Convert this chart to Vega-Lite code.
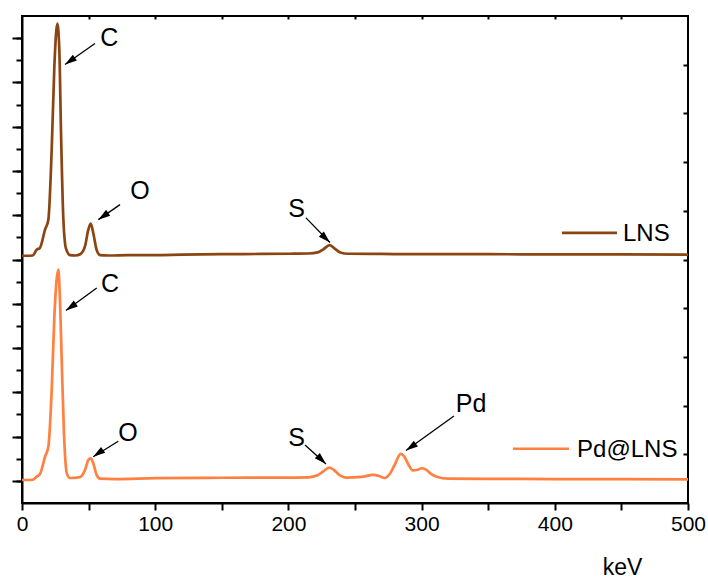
{
  "$schema": "https://vega.github.io/schema/vega-lite/v6.json",
  "width": 666,
  "height": 487,
  "autosize": {"type": "none"},
  "padding": {"left": 22, "top": 16, "right": 20, "bottom": 76},
  "background": "white",
  "config": {
    "view": {"stroke": "black", "strokeWidth": 2},
    "axis": {
      "grid": false,
      "domainColor": "black",
      "domainWidth": 2,
      "tickColor": "black",
      "tickWidth": 2,
      "labelColor": "black",
      "labelFont": "Liberation Sans",
      "labelFontSize": 21,
      "titleFont": "Liberation Sans",
      "titleColor": "black",
      "titleFontWeight": "normal",
      "labelFlush": false,
      "labelOverlap": false,
      "labelBound": false
    },
    "text": {"font": "Liberation Sans", "color": "black"}
  },
  "datasets": {
    "lns": [
      {"keV": 0, "v": 11.17}, {"keV": 4, "v": 11.17}, {"keV": 8, "v": 11.18},
      {"keV": 11, "v": 11.44}, {"keV": 13.5, "v": 11.53}, {"keV": 17.3, "v": 12.35},
      {"keV": 19.8, "v": 12.8}, {"keV": 22.3, "v": 15.97}, {"keV": 24.3, "v": 19.73},
      {"keV": 26.5, "v": 21.66}, {"keV": 28, "v": 20.5}, {"keV": 29.3, "v": 16.7},
      {"keV": 31, "v": 12.9}, {"keV": 33, "v": 11.5}, {"keV": 36, "v": 11.2},
      {"keV": 40, "v": 11.18}, {"keV": 44, "v": 11.25}, {"keV": 47.3, "v": 11.6},
      {"keV": 49.8, "v": 12.35}, {"keV": 51.6, "v": 12.62}, {"keV": 53.5, "v": 12.2},
      {"keV": 56, "v": 11.44}, {"keV": 58.6, "v": 11.2}, {"keV": 65, "v": 11.18},
      {"keV": 80, "v": 11.2}, {"keV": 100, "v": 11.2}, {"keV": 120, "v": 11.22},
      {"keV": 150, "v": 11.24}, {"keV": 180, "v": 11.25}, {"keV": 200, "v": 11.26},
      {"keV": 215, "v": 11.27}, {"keV": 222, "v": 11.32}, {"keV": 226, "v": 11.45},
      {"keV": 231, "v": 11.65}, {"keV": 235, "v": 11.48}, {"keV": 239, "v": 11.32},
      {"keV": 245, "v": 11.26}, {"keV": 270, "v": 11.25}, {"keV": 300, "v": 11.24},
      {"keV": 350, "v": 11.24}, {"keV": 400, "v": 11.23}, {"keV": 450, "v": 11.23},
      {"keV": 500, "v": 11.22}
    ],
    "pd": [
      {"keV": 0, "v": 1.04}, {"keV": 4, "v": 1.04}, {"keV": 8, "v": 1.05},
      {"keV": 11, "v": 1.19}, {"keV": 13.5, "v": 1.31}, {"keV": 17.3, "v": 2.09},
      {"keV": 19.8, "v": 2.55}, {"keV": 22.3, "v": 5.11}, {"keV": 24.3, "v": 8.43},
      {"keV": 27.3, "v": 10.54}, {"keV": 28.5, "v": 9.18}, {"keV": 29.8, "v": 6.47},
      {"keV": 31.5, "v": 3.16}, {"keV": 33.6, "v": 1.35}, {"keV": 36, "v": 1.13},
      {"keV": 43.5, "v": 1.17}, {"keV": 47.3, "v": 1.49}, {"keV": 49.8, "v": 1.94},
      {"keV": 51.6, "v": 2.02}, {"keV": 53.5, "v": 1.8}, {"keV": 56, "v": 1.27},
      {"keV": 58.6, "v": 1.1}, {"keV": 70, "v": 1.08}, {"keV": 100, "v": 1.12},
      {"keV": 150, "v": 1.14}, {"keV": 200, "v": 1.15}, {"keV": 215, "v": 1.16},
      {"keV": 222, "v": 1.25}, {"keV": 226, "v": 1.42}, {"keV": 230.7, "v": 1.6},
      {"keV": 234, "v": 1.5}, {"keV": 238.7, "v": 1.25}, {"keV": 243, "v": 1.15},
      {"keV": 255, "v": 1.18}, {"keV": 263.5, "v": 1.27}, {"keV": 268, "v": 1.22},
      {"keV": 272, "v": 1.13}, {"keV": 276, "v": 1.3}, {"keV": 280, "v": 1.75},
      {"keV": 284.3, "v": 2.22}, {"keV": 287, "v": 2.1}, {"keV": 290, "v": 1.75},
      {"keV": 293.5, "v": 1.47}, {"keV": 297, "v": 1.5}, {"keV": 300, "v": 1.57},
      {"keV": 303, "v": 1.52}, {"keV": 307, "v": 1.32}, {"keV": 311.3, "v": 1.19},
      {"keV": 320, "v": 1.1}, {"keV": 360, "v": 1.09}, {"keV": 400, "v": 1.08},
      {"keV": 450, "v": 1.08}, {"keV": 500, "v": 1.07}
    ],
    "labels": [
      {"text": "C", "keV": 65.5, "v": 21.07},
      {"text": "O", "keV": 88.6, "v": 14.14},
      {"text": "S", "keV": 206.2, "v": 13.31},
      {"text": "C", "keV": 66.1, "v": 9.93},
      {"text": "O", "keV": 79.6, "v": 3.21},
      {"text": "S", "keV": 206.2, "v": 3.0},
      {"text": "Pd", "keV": 337.1, "v": 4.52}
    ],
    "arrows": [
      {"peak": "C", "keV": 54.8, "v": 20.76, "keV2": 32.3, "v2": 19.81},
      {"peak": "O", "keV": 73.6, "v": 13.48, "keV2": 57.3, "v2": 12.8},
      {"peak": "S", "keV": 213.2, "v": 12.88, "keV2": 231.2, "v2": 11.77},
      {"peak": "C", "keV": 56.1, "v": 9.71, "keV2": 33.0, "v2": 8.7},
      {"peak": "O", "keV": 72.3, "v": 2.79, "keV2": 53.5, "v2": 2.09},
      {"peak": "S", "keV": 212.5, "v": 2.62, "keV2": 228.2, "v2": 1.76},
      {"peak": "Pd", "keV": 324.3, "v": 3.93, "keV2": 288.3, "v2": 2.37}
    ],
    "legend": [
      {"series": "LNS", "keV": 405.4, "keV2": 446.7, "v": 12.2, "textKeV": 451.2},
      {"series": "Pd@LNS", "keV": 368.6, "keV2": 410.7, "v": 2.45, "textKeV": 416.7}
    ]
  },
  "layer": [
    {
      "data": {"name": "lns"},
      "mark": {"type": "line", "color": "#8b4513", "strokeWidth": 2.7, "interpolate": "monotone"},
      "encoding": {
        "x": {
          "field": "keV", "type": "quantitative",
          "scale": {"domain": [0, 500], "nice": false, "zero": false},
          "axis": {
            "orient": "bottom",
            "values": [0, 50, 100, 150, 200, 250, 300, 350, 400, 450, 500],
            "tickSize": 7,
            "labelPadding": 3,
            "labelExpr": "datum.value % 100 === 0 ? datum.label : ''",
            "title": "keV",
            "titleFontSize": 23,
            "titleX": 600,
            "titleY": 71,
            "titleAlign": "center",
            "titleBaseline": "alphabetic",
            "titleAnchor": null
          }
        },
        "y": {
          "field": "v", "type": "quantitative",
          "scale": {"domain": [0, 22], "nice": false, "zero": false},
          "axis": {
            "orient": "left",
            "values": [1, 2, 3, 4, 5, 6, 7, 8, 9, 10, 11, 12, 13, 14, 15, 16, 17, 18, 19, 20, 21],
            "tickSize": 6,
            "labels": false,
            "title": null
          }
        }
      }
    },
    {
      "data": {"name": "pd"},
      "mark": {"type": "line", "color": "#ff8040", "strokeWidth": 2.7, "interpolate": "monotone"},
      "encoding": {
        "x": {
          "field": "keV", "type": "quantitative",
          "scale": {"domain": [0, 500], "nice": false, "zero": false},
          "axis": {
            "orient": "top",
            "values": [50, 100, 150, 200, 250, 300, 350, 400, 450],
            "tickSize": 3,
            "offset": -3,
            "domain": false,
            "labels": false,
            "title": null
          }
        },
        "y": {
          "field": "v", "type": "quantitative",
          "scale": {"domain": [0, 22], "nice": false, "zero": false},
          "axis": {
            "orient": "left",
            "values": [1, 3, 5, 7, 9, 11, 13, 15, 17, 19, 21],
            "tickSize": 10,
            "domain": false,
            "labels": false,
            "title": null
          }
        }
      }
    },
    {
      "data": {"name": "arrows"},
      "mark": {"type": "rule", "color": "black", "strokeWidth": 1.3},
      "encoding": {
        "x": {"field": "keV", "type": "quantitative", "scale": {"domain": [0, 500], "nice": false, "zero": false}, "axis": null},
        "x2": {"field": "keV2"},
        "y": {
          "field": "v", "type": "quantitative",
          "scale": {"domain": [0, 22], "nice": false, "zero": false},
          "axis": {
            "orient": "right",
            "values": [2.2, 4.4, 6.6, 8.8, 11, 13.2, 15.4, 17.6, 19.8],
            "tickSize": 5,
            "offset": -5,
            "domain": false,
            "labels": false,
            "title": null
          }
        },
        "y2": {"field": "v2"}
      }
    },
    {
      "data": {"name": "arrows"},
      "transform": [{"filter": "datum.peak !== 'S'"}],
      "mark": {"type": "point", "shape": "M0,0L0.6,2L-0.6,2Z", "filled": true, "color": "black", "opacity": 1, "size": 144, "angle": 235, "strokeWidth": 0},
      "encoding": {
        "x": {"field": "keV2", "type": "quantitative", "scale": {"domain": [0, 500], "nice": false, "zero": false}, "axis": null},
        "y": {"field": "v2", "type": "quantitative", "scale": {"domain": [0, 22], "nice": false, "zero": false}, "axis": null}
      }
    },
    {
      "data": {"name": "arrows"},
      "transform": [{"filter": "datum.peak === 'S'"}],
      "mark": {"type": "point", "shape": "M0,0L0.6,2L-0.6,2Z", "filled": true, "color": "black", "opacity": 1, "size": 144, "angle": 134, "strokeWidth": 0},
      "encoding": {
        "x": {"field": "keV2", "type": "quantitative", "scale": {"domain": [0, 500], "nice": false, "zero": false}, "axis": null},
        "y": {"field": "v2", "type": "quantitative", "scale": {"domain": [0, 22], "nice": false, "zero": false}, "axis": null}
      }
    },
    {
      "data": {"name": "labels"},
      "mark": {"type": "text", "fontSize": 25, "align": "center", "baseline": "middle", "dy": 1},
      "encoding": {
        "x": {"field": "keV", "type": "quantitative", "scale": {"domain": [0, 500], "nice": false, "zero": false}, "axis": null},
        "y": {"field": "v", "type": "quantitative", "scale": {"domain": [0, 22], "nice": false, "zero": false}, "axis": null},
        "text": {"field": "text"}
      }
    },
    {
      "data": {"name": "legend"},
      "mark": {"type": "rule", "strokeWidth": 2.7},
      "encoding": {
        "x": {"field": "keV", "type": "quantitative", "scale": {"domain": [0, 500], "nice": false, "zero": false}, "axis": null},
        "x2": {"field": "keV2"},
        "y": {"field": "v", "type": "quantitative", "scale": {"domain": [0, 22], "nice": false, "zero": false}, "axis": null},
        "color": {"field": "series", "type": "nominal", "scale": {"domain": ["LNS", "Pd@LNS"], "range": ["#8b4513", "#ff8040"]}, "legend": null}
      }
    },
    {
      "data": {"name": "legend"},
      "mark": {"type": "text", "fontSize": 24, "align": "left", "baseline": "middle", "dy": 1},
      "encoding": {
        "x": {"field": "textKeV", "type": "quantitative", "scale": {"domain": [0, 500], "nice": false, "zero": false}, "axis": null},
        "y": {"field": "v", "type": "quantitative", "scale": {"domain": [0, 22], "nice": false, "zero": false}, "axis": null},
        "text": {"field": "series"}
      }
    }
  ],
  "resolve": {
    "scale": {"x": "independent", "y": "independent"},
    "axis": {"x": "independent", "y": "independent"}
  }
}
